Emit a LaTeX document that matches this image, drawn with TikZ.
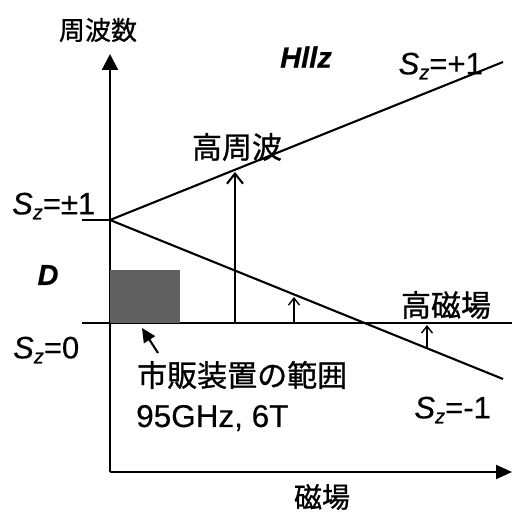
\documentclass[tikz,border=0pt]{standalone}
\usepackage{fontspec}
\setmainfont{Liberation Sans}
\newfontfamily\jp[FakeBold=0.9]{Noto Sans CJK JP}
\newfontfamily\lat[FakeBold=0.4]{Liberation Sans}
\usetikzlibrary{arrows.meta}
\newcommand{\Sz}[1]{{\lat\itshape S}\raisebox{-0.3ex}{\fontsize{20}{20}\selectfont\lat\itshape z}{\lat #1}}
\tikzset{
  ln/.style={line width=2.1pt},
  jt/.style={inner sep=0pt, font=\jp\fontsize{30}{30}\selectfont},
  lt/.style={inner sep=0pt, font=\lat\fontsize{31.5}{31.5}\selectfont},
  sz/.style={inner sep=0pt, font=\fontsize{31}{31}\selectfont},
  trans/.style={line width=2.1pt, -{Straight Barb[length=10pt,width=16pt,line width=2.1pt]}},
  stran/.style={line width=1.4pt, -{Straight Barb[length=7pt,width=11pt,line width=1.4pt]}},
}
\begin{document}
\begin{tikzpicture}[x=1pt,y=-1pt]
\useasboundingbox (0,0) rectangle (515,513);
% axes
\coordinate (O) at (110,472);
\coordinate (Ytop) at (110,54);
\coordinate (Xend) at (512,472);
\draw[ln,-{Triangle[length=16pt,width=16pt]}] (O) -- (Ytop);
\draw[ln,-{Triangle[length=16pt,width=14pt]}] (O) -- (Xend);
% levels
\coordinate (Z0a) at (82,323);
\coordinate (Z0b) at (512,323);
\draw[ln] (Z0a) -- (Z0b);
\coordinate (Ta) at (82,220);
\coordinate (P) at (110,220);
\draw[ln] (Ta) -- (P);
\coordinate (Up) at (503,62);
\coordinate (Dn) at (503,379);
\draw[ln] (P) -- (Up);
\draw[ln] (P) -- (Dn);
% box
\fill[black!62] (110,270) rectangle (180,323);
% transitions
\coordinate (A1) at (235,323); \coordinate (A1e) at (235,172);
\draw[trans] (A1) -- (A1e);
\coordinate (A2) at (294,322); \coordinate (A2e) at (294,297);
\draw[stran] (A2) -- (A2e);
\coordinate (A3) at (427,348); \coordinate (A3e) at (427,325);
\draw[stran] (A3) -- (A3e);
% pointer
\coordinate (Pt) at (158,353); \coordinate (Ph) at (142,328);
\draw[line width=2.1pt,-{Triangle[length=14pt,width=13pt]}] (Pt) -- (Ph);
% labels
\node[jt,font=\jp\fontsize{26}{26}\selectfont] (freq) at (98,30) {周波数};
\node[inner sep=0pt,font=\lat\fontsize{29}{29}\selectfont\bfseries\itshape] (hz) at (306,57) {Hllz};
\node[sz,anchor=east] (szp) at (483,66) {\Sz{=+1}};
\node[jt] (hf) at (237,147) {高周波};
\node[sz,anchor=west] (szpm) at (12,206) {\Sz{=±1}};
\node[inner sep=0pt,font=\lat\fontsize{29}{29}\selectfont\bfseries\itshape] (D) at (48,275) {D};
\node[sz,anchor=west] (sz0) at (13,350) {\Sz{=0}};
\node[jt,anchor=west] (shop) at (137,375) {市販装置の範囲};
\node[lt,anchor=west] (spec) at (136,418) {95GHz, 6T};
\node[jt] (hb) at (446,305) {高磁場};
\node[sz,anchor=east] (szm) at (491,410) {\Sz{=-1}};
\node[jt,font=\jp\fontsize{28}{28}\selectfont] (mf) at (322,497) {磁場};
\end{tikzpicture}
\end{document}
